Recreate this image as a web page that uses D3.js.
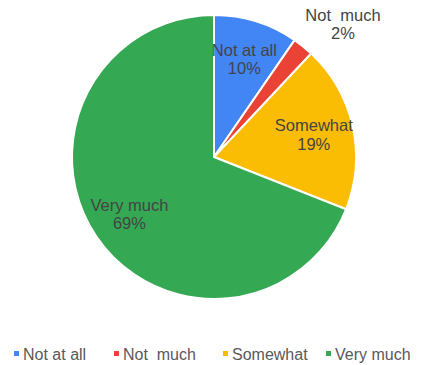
<!DOCTYPE html>
<html>
<head>
<script src="https://d3js.org/d3.v7.min.js"></script>
<style>
  body { margin: 0; background: #fff; }
  text { font-family: "Liberation Sans", Arial, sans-serif; }
</style>
</head>
<body>
<svg id="chart"></svg>
<script>
// data
var categories = ["Not at all", "Not  much", "Somewhat", "Very much"];
var shares = [9.6, 2.4, 19.0, 69.0];
var colors = ["#4285F4", "#EA4335", "#FBBC04", "#34A853"];

var width = 421, height = 365;
var cx = 214, cy = 157, radius = 142;

var data = categories.map(function(c, i) { return { name: c, value: shares[i] }; });
var total = d3.sum(shares);

var svg = d3.select("#chart")
    .attr("width", width)
    .attr("height", height);

var color = d3.scaleOrdinal().domain(categories).range(colors);

var pie = d3.pie().sort(null).value(function(d) { return d.value; });
var arc = d3.arc().innerRadius(0).outerRadius(radius);
var labelArc = d3.arc().innerRadius(radius * 0.72).outerRadius(radius * 0.72);
var outerArc = d3.arc().innerRadius(radius * 1.2).outerRadius(radius * 1.2);

var g = svg.append("g").attr("transform", "translate(" + cx + "," + cy + ")");

var arcs = pie(data);

g.selectAll("path")
    .data(arcs)
    .enter().append("path")
    .attr("d", arc)
    .attr("fill", function(d) { return color(d.data.name); })
    .attr("stroke", "#fff")
    .attr("stroke-width", 2);

var fmt = function(v) { return Math.round(v / total * 100) + "%"; };

// labels
var labels = g.selectAll(".lbl")
    .data(arcs)
    .enter().append("text")
    .attr("class", "lbl")
    .attr("text-anchor", "middle")
    .attr("font-size", 16.5)
    .attr("fill", "#444")
    .attr("transform", function(d) {
        var small = (d.endAngle - d.startAngle) < 0.2;
        var p = small ? outerArc.centroid(d) : labelArc.centroid(d);
        if (small) p[0] += 22;
        return "translate(" + p[0] + "," + p[1] + ")";
    });

labels.append("tspan")
    .attr("x", 0).attr("dy", "-0.2em")
    .style("white-space", "pre")
    .text(function(d) { return d.data.name; });
labels.append("tspan")
    .attr("x", 0).attr("dy", "1.1em")
    .text(function(d) { return fmt(d.data.value); });

// legend
var legendX = [14, 114, 223, 326];
var legend = svg.append("g").attr("transform", "translate(0,354)");
var items = legend.selectAll("g")
    .data(categories)
    .enter().append("g")
    .attr("transform", function(d, i) { return "translate(" + legendX[i] + ",0)"; });
items.append("rect")
    .attr("x", 0).attr("y", -3)
    .attr("width", 5).attr("height", 5)
    .attr("fill", function(d) { return color(d); });
items.append("text")
    .attr("x", 9).attr("y", 0)
    .attr("dy", "0.35em")
    .attr("font-size", 16)
    .attr("fill", "#595959")
    .style("white-space", "pre")
    .text(function(d) { return d; });
</script>
</body>
</html>
